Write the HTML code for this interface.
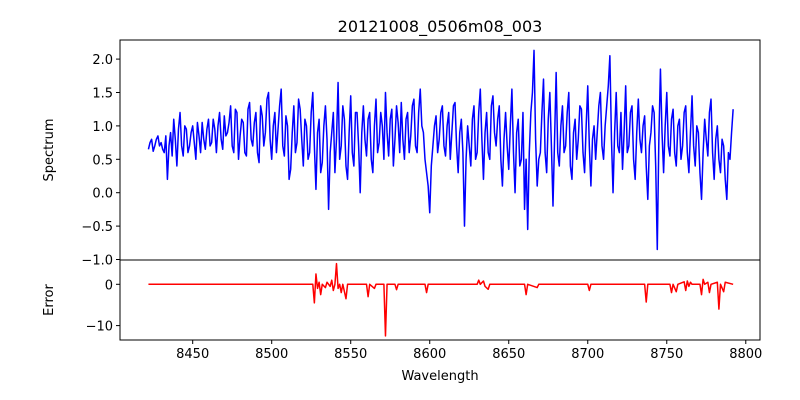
<!DOCTYPE html>
<html><head><meta charset="utf-8"><style>
body{margin:0;background:#fff}
svg{display:block;font-family:"DejaVu Sans","Liberation Sans",sans-serif}
</style></head><body>
<svg id="c" width="800" height="400"></svg>
<script>
const specStart = 8422, specStep = 1;
const specValues = [
0.65,0.75,0.8,0.62,0.7,0.8,0.85,0.7,0.75,0.65,0.6,0.85,0.2,0.7,0.9,0.55,1.1,0.8,0.4,0.95,
1.2,0.7,0.55,1.0,0.95,0.6,0.7,0.9,1.0,0.75,0.5,1.05,0.85,0.6,1.05,0.8,0.65,0.95,1.1,0.7,
0.75,1.1,0.95,0.6,1.0,1.2,0.8,0.65,1.15,0.85,0.9,1.05,1.3,0.7,0.6,1.25,1.2,0.5,0.85,1.1,
1.05,0.6,0.55,1.25,1.35,0.8,0.7,1.05,1.2,0.6,0.45,1.3,1.15,0.7,0.9,1.4,1.5,0.8,0.5,1.0,
1.2,0.6,0.95,1.3,1.55,0.7,0.55,1.15,1.0,0.2,0.35,0.9,1.3,0.6,0.75,1.4,1.25,0.8,0.4,1.1,
1.0,0.5,0.6,1.2,1.5,0.7,0.05,0.9,1.1,0.3,0.45,1.0,1.3,0.8,-0.25,0.6,0.9,1.2,0.3,0.8,
1.65,0.5,0.7,1.3,1.1,0.4,0.2,0.9,1.45,0.6,0.4,1.2,1.2,0.7,0.0,0.9,1.3,0.8,0.55,1.1,
1.2,0.5,0.3,1.0,1.4,0.6,0.75,1.2,1.0,0.5,1.5,0.9,0.55,1.1,1.25,0.4,0.8,1.3,1.05,0.6,
1.35,0.8,0.5,1.1,1.2,0.6,0.85,1.3,1.4,0.7,0.6,1.2,1.55,1.0,0.9,0.5,0.3,0.1,-0.3,0.4,
0.7,1.0,1.15,0.6,0.8,1.2,1.3,0.7,0.55,1.0,1.2,0.5,0.9,1.3,1.35,0.7,0.3,0.9,1.1,0.6,
-0.5,0.5,1.0,0.7,0.4,1.1,1.3,0.5,0.6,1.2,1.55,0.8,0.2,0.9,1.2,0.6,0.5,1.3,1.45,0.9,
0.7,1.1,1.3,0.5,0.1,0.8,1.2,0.7,0.35,1.0,1.55,0.6,0.0,0.9,1.1,0.4,0.5,1.2,-0.25,0.5,
-0.55,0.6,1.2,1.5,2.13,0.8,0.1,0.5,0.6,1.2,1.7,0.6,0.3,1.1,1.5,0.7,-0.2,0.8,1.8,0.6,
0.4,1.0,1.3,0.6,0.7,1.2,1.5,0.4,0.2,0.9,1.1,0.5,0.8,1.3,1.25,0.6,0.3,1.0,1.6,0.7,
0.1,0.8,1.0,0.5,0.9,1.3,1.5,0.7,0.5,1.0,1.3,1.6,2.05,0.8,0.0,0.9,1.5,0.7,0.6,1.2,
0.35,0.9,1.6,0.6,0.7,1.2,1.3,0.5,0.2,0.9,1.4,0.8,0.6,1.0,1.15,0.4,-0.1,0.7,0.9,1.3,
1.2,0.4,-0.85,0.8,1.85,0.9,0.3,1.0,1.5,0.7,0.55,1.1,1.25,0.6,0.4,1.0,1.1,0.5,0.7,1.2,
1.3,0.6,0.3,0.9,1.45,0.7,0.4,1.0,0.9,0.3,-0.1,0.6,1.1,0.8,0.55,1.2,1.4,0.6,0.2,0.8,
1.0,0.5,0.3,0.8,0.7,0.2,-0.1,0.6,0.5,0.9,1.25];
const errWave = [8422,8526,8527,8528,8529,8530,8531,8532,8534,8535,8536,8537,8538,8539,8540,8541,8542,8543,8544,8545,8547,8548,8560,8561,8562,8565,8566,8571,8572,8573,8578,8579,8580,8597,8598,8599,8630,8631,8632,8634,8635,8637,8638,8660,8661,8662,8668,8669,8700,8701,8702,8736,8737,8738,8752,8753,8754,8756,8757,8761,8762,8763,8764,8765,8766,8771,8772,8773,8774,8776,8777,8778,8782,8783,8784,8786,8787,8792];
const errVals = [0,0,-4.5,2.5,-1,0.5,-2.5,0,-0.8,0.5,0,-0.5,1,-1.5,0,5,-1,0,-2,0,-3.5,0,0,-3,0,-1,0,0,-12.5,0,0,-1.3,0,0,-2,0,0,1,0,0.8,-0.5,-1.2,0,0,-2.5,0,-0.8,0,0,-1.5,0,0,-4.3,0,0,-2,0,-1.8,0,0.6,-1.5,0.8,-0.5,0.5,0,0,-2.5,1.2,0,0.5,-2,0,0.5,-6,0,-1.8,0.5,0];
const xTicks = [8450,8500,8550,8600,8650,8700,8750,8800];
const yTicksTop = [2.0,1.5,1.0,0.5,0.0,-0.5,-1.0];
const yTicksBot = [0,-10];

const NS="http://www.w3.org/2000/svg", svg=document.getElementById('c');
function mk(t,a,p){const e=document.createElementNS(NS,t);for(const k in a)e.setAttribute(k,a[k]);(p||svg).appendChild(e);return e;}
const L=120,R=760,T1=40,B1=260,T2=260,B2=340;
const xs=w=>L+(w-8404)*(R-L)/(8809-8404);
const ys1=v=>192.7-v*66.8;
const ys2=v=>284.3-v*4.13;

let t=mk('text',{x:440,y:32,'text-anchor':'middle','font-size':16});t.textContent='20121008_0506m08_003';



let d='';specValues.forEach((v,i)=>{d+=(i?'L':'M')+xs(specStart+i*specStep).toFixed(2)+','+ys1(v).toFixed(2);});
let p=mk('path',{d:d,fill:'none',stroke:'#0000ff','stroke-width':1.5,'stroke-linejoin':'round'});


d='';errVals.forEach((v,i)=>{d+=(i?'L':'M')+xs(errWave[i]).toFixed(2)+','+ys2(v).toFixed(2);});
p=mk('path',{d:d,fill:'none',stroke:'#ff0000','stroke-width':1.5,'stroke-linejoin':'round'});



let f=mk('rect',{x:L,y:T1,width:R-L,height:B1-T1,fill:'none',stroke:'#000','stroke-width':1});


f=mk('rect',{x:L,y:T2,width:R-L,height:B2-T2,fill:'none',stroke:'#000','stroke-width':1});



xTicks.forEach(w=>{const x=xs(w);mk('line',{x1:x,x2:x,y1:B2,y2:B2+4,stroke:'#000'});
 const tx=mk('text',{x:x,y:B2+18,'text-anchor':'middle','font-size':13});tx.textContent=w;
 
 });
yTicksTop.forEach(v=>{const y=ys1(v);mk('line',{x1:L-4,x2:L,y1:y,y2:y,stroke:'#000'});
 const tx=mk('text',{x:L-7,y:y+5,'text-anchor':'end','font-size':13});tx.textContent=v.toFixed(1).replace('-','\u2212');
 
 });
yTicksBot.forEach(v=>{const y=ys2(v);mk('line',{x1:L-4,x2:L,y1:y,y2:y,stroke:'#000'});
 const tx=mk('text',{x:L-7,y:y+5,'text-anchor':'end','font-size':13});tx.textContent=String(v).replace('-','\u2212');
 
 });

t=mk('text',{x:440,y:380,'text-anchor':'middle','font-size':13});t.textContent='Wavelength';


t=mk('text',{x:53,y:150,'text-anchor':'middle','font-size':13,transform:'rotate(-90 53 150)'});t.textContent='Spectrum';


t=mk('text',{x:53,y:300,'text-anchor':'middle','font-size':13,transform:'rotate(-90 53 300)'});t.textContent='Error';


</script>
</body></html>
